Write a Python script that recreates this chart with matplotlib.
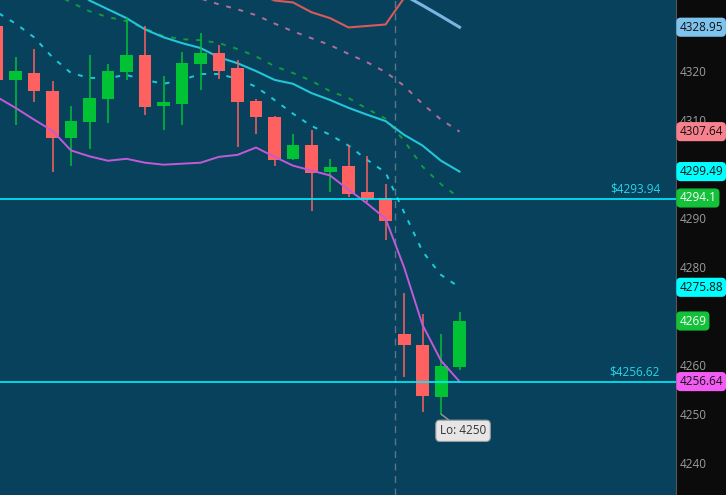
import numpy as np
import matplotlib
matplotlib.use("Agg")
import matplotlib.pyplot as plt

plt.rcParams['font.family'] = ['Open Sans', 'DejaVu Sans']

nan = np.nan

# candles (one per bar, left to right)
opens = [4329.1, 4318.2, 4319.6, 4315.9, 4306.4, 4309.6, 4314.3, 4319.8, 4323.2, 4312.9,
         4313.3, 4321.4, 4323.7, 4320.6, 4313.9, 4310.7, 4302.1, 4305.0, 4299.5, 4300.7,
         4295.4, 4294.0, 4266.4, 4264.2, 4253.4, 4259.7]
closes = [4318.2, 4320.0, 4315.9, 4306.4, 4309.8, 4314.5, 4320.0, 4323.2, 4312.7, 4313.7,
          4321.6, 4323.7, 4320.0, 4313.7, 4310.7, 4301.9, 4305.0, 4299.3, 4300.5, 4295.0,
          4293.8, 4289.5, 4264.2, 4253.8, 4259.9, 4269.0]
highs = [4332.0, 4322.8, 4324.5, 4318.0, 4312.9, 4323.2, 4321.4, 4330.8, 4329.1, 4319.0,
         4323.9, 4327.7, 4325.3, 4322.2, 4314.3, 4310.9, 4307.2, 4308.0, 4302.1, 4305.0,
         4302.7, 4296.9, 4274.7, 4270.5, 4266.4, 4270.9]
lows = [4318.2, 4309.0, 4313.7, 4299.5, 4300.7, 4304.0, 4309.4, 4318.2, 4311.1, 4308.0,
        4309.0, 4316.1, 4318.4, 4304.6, 4307.2, 4300.7, 4301.9, 4291.4, 4295.4, 4294.4,
        4293.2, 4285.5, 4257.5, 4250.4, 4250.0, 4259.1]

# indicator lines
magenta_ma = [4314.7, 4312.5, 4310.1, 4307.8, 4303.8, 4302.6, 4301.7, 4302.1, 4301.3, 4300.9,
              4301.1, 4301.3, 4302.5, 4302.9, 4304.4, 4302.5, 4300.7, 4299.7, 4298.7, 4295.8,
              4293.0, 4289.9, 4280.0, 4268.2, 4260.9, 4256.64]
cyan_ma = [nan, nan, nan, 4340.0, 4337.5, 4334.4, 4332.6, 4330.8, 4328.5, 4326.9,
           4325.7, 4324.7, 4322.8, 4321.6, 4320.0, 4318.2, 4317.4, 4315.5, 4314.1, 4312.5,
           4311.1, 4309.8, 4307.0, 4304.8, 4301.7, 4299.49]
green_dash = [nan, nan, nan, 4336.0, 4334.0, 4332.2, 4331.0, 4330.2, 4328.7, 4327.1,
              4326.5, 4326.3, 4325.7, 4324.5, 4323.0, 4321.0, 4319.6, 4318.0, 4315.9, 4314.5,
              4312.3, 4310.3, 4305.8, 4300.5, 4296.9, 4294.1]
cyan_dash = [4332.0, 4329.7, 4326.9, 4322.8, 4319.6, 4318.6, 4318.6, 4319.2, 4318.2, 4317.4,
             4318.2, 4319.4, 4319.4, 4318.4, 4316.8, 4314.1, 4311.3, 4308.8, 4307.0, 4304.8,
             4301.9, 4299.3, 4291.2, 4283.2, 4278.4, 4275.88]
pink_dash = [nan] * 10 + [4336.0, 4334.8, 4333.6, 4332.6, 4331.4, 4329.7, 4328.1, 4326.7,
                          4325.3, 4323.5, 4321.8, 4319.8, 4317.0, 4313.3, 4310.1, 4307.64]
red_line = [nan] * 14 + [4336.0, 4334.4, 4334.0, 4332.0, 4330.8, 4328.9, 4329.2, 4329.5,
                         4334.9, 4340.0, nan, nan]
blue_line = [nan] * 21 + [4338.0, 4335.5, 4333.4, 4331.2, 4328.95]

hlines = [4293.94, 4256.62]
day_break = 21.5
tick_vals = [4240, 4250, 4260, 4280, 4290, 4310, 4320]

# right-axis price tags: value, background, text colour
tags = [(4328.95, '#7EC3EE', '#111111'), (4307.64, '#F7818D', '#111111'),
        (4299.49, '#00FFFF', '#111111'), (4294.1, '#14C23A', '#FFFFFF'),
        (4275.88, '#00FFFF', '#111111'), (4269, '#14C23A', '#FFFFFF'),
        (4256.64, '#F25CF2', '#111111')]

bg = '#08415C'
up_col = '#00C234'
dn_col = '#FF6060'

fig = plt.figure(figsize=(7.26, 4.95), dpi=100)
fig.patch.set_facecolor('#0B0B0B')
ax = fig.add_axes([0, 0, 676 / 726, 1])
ax.set_facecolor(bg)

x = np.arange(len(opens))

# candles
for i in x:
    o, c, h, l = opens[i], closes[i], highs[i], lows[i]
    col = up_col if c >= o else dn_col
    ax.vlines(i, l, h, color=col, lw=1.1, zorder=3)
    ax.bar(i, abs(c - o), bottom=min(o, c), width=0.7, color=col, zorder=3)

ax.plot(x, cyan_dash, color='#1ACBDC', lw=1.4, ls=(0, (2.5, 4)), zorder=2)
ax.plot(x, green_dash, color='#119A3C', lw=1.4, ls=(0, (2.5, 4)), zorder=2)
ax.plot(x, pink_dash, color='#B56E98', lw=1.4, ls=(0, (2.5, 4)), zorder=2)
ax.plot(x, cyan_ma, color='#22C6D6', lw=1.5, zorder=2)
ax.plot(x, red_line, color='#D85A5A', lw=1.5, zorder=2)
ax.plot(x, blue_line, color='#78B6E2', lw=2.2, zorder=2)
ax.plot(x, magenta_ma, color='#C25AD8', lw=1.4, zorder=4)

ax.axvline(day_break, color='#5E7584', lw=1, ls=(0, (5, 4)), zorder=1)

for v in hlines:
    ax.axhline(v, color='#00F0FF', lw=1.2, zorder=5)
    ax.text(35.84, v + 0.6, '$' + format(v, '.2f'), color='#22D8E8', fontsize=8.5,
            ha='right', va='bottom', zorder=6)

ax.annotate('Lo: 4250', xy=(24, 4250.0), xytext=(25.19, 4246.6),
            ha='center', va='center', fontsize=8.5, color='#333333', zorder=7,
            bbox=dict(boxstyle='round,pad=0.35,rounding_size=0.35', fc='#E6E6E6', ec='#9A9A9A', lw=0.8),
            arrowprops=dict(arrowstyle='-', color='#9A9A9A', lw=1.0, shrinkA=0, shrinkB=0))

ax.set_xlim(0.162, 36.7)
ax.set_ylim(4233.5, 4334.5)

ax.yaxis.tick_right()
ax.set_yticks(tick_vals)
ax.set_yticklabels([str(t) for t in tick_vals])
ax.tick_params(axis='y', length=0, pad=3, labelcolor='#9C9C9C', labelsize=8.5)
ax.set_xticks([])
for s in ['top', 'bottom', 'left']:
    ax.spines[s].set_visible(False)
ax.spines['right'].set_color('#555555')

ytrans = ax.get_yaxis_transform()
for v, fc, tc in tags:
    ax.text(1.005, v, str(v), transform=ytrans, ha='left', va='center', fontsize=8.5,
            color=tc, clip_on=False, zorder=8,
            bbox=dict(boxstyle='round,pad=0.2,rounding_size=0.3', fc=fc, ec=fc))

fig.savefig('out.png', dpi=100, facecolor=fig.get_facecolor())
